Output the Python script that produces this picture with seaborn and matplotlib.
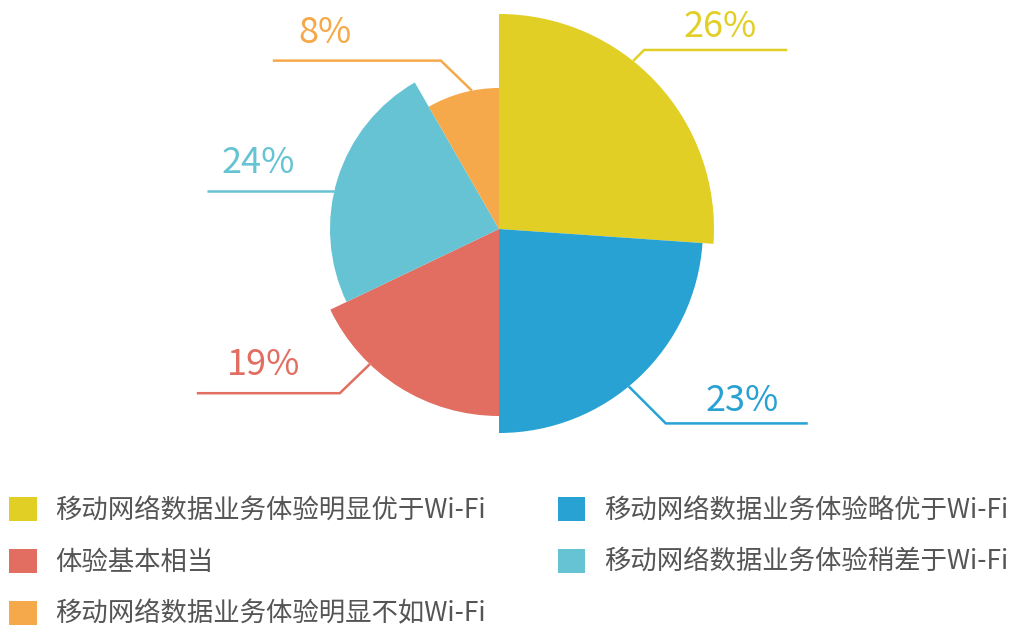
import numpy as np
import matplotlib.pyplot as plt
from matplotlib.patches import Patch
import seaborn as sns

# data
categories = [
    "移动网络数据业务体验明显优于Wi-Fi",
    "移动网络数据业务体验略优于Wi-Fi",
    "体验基本相当",
    "移动网络数据业务体验稍差于Wi-Fi",
    "移动网络数据业务体验明显不如Wi-Fi",
]
shares = [26.1, 23.9, 17.9, 23.8, 8.3]
pct_labels = ["26%", "23%", "19%", "24%", "8%"]
radii = [215, 204, 187, 169, 141]
colors = ["#E2CF26", "#28A1D3", "#E16E61", "#66C3D3", "#F5A94A"]

sns.set_theme(style="white")
plt.rcParams["font.family"] = ["Noto Sans CJK SC", "DejaVu Sans"]

W, H = 1012, 626
CX, CY, RMAX = 499, 229, 220

fig = plt.figure(figsize=(W / 100, H / 100), dpi=100)
ax = fig.add_axes([(CX - RMAX) / W, (H - CY - RMAX) / H, 2 * RMAX / W, 2 * RMAX / H],
                  projection="polar")
ax.set_theta_zero_location("N")
ax.set_theta_direction(-1)

widths = np.radians(np.array(shares) / sum(shares) * 360)
starts = np.concatenate([[0], np.cumsum(widths)[:-1]])
ax.bar(starts, radii, width=widths, align="edge", color=colors, linewidth=0)
ax.set_ylim(0, RMAX)
ax.set_axis_off()

# overlay in pixel coordinates for leader lines and labels
ov = fig.add_axes([0, 0, 1, 1])
ov.set_xlim(0, W)
ov.set_ylim(H, 0)
ov.set_axis_off()
ov.patch.set_alpha(0)

anchor_deg = [38.6, 140.5, 223.7, 283.1, 348.9]
elbow = [(11, -11), (37, 37), (-30, 29), (0, 0), (-31, -30)]
tail = [143, 142, -143, -127, -168]
text_dx = [-67, -66, 67, 51, 52]
text_gap = [13, 12.5, 18, 18, 18]

for i, lab in enumerate(pct_labels):
    a = np.radians(anchor_deg[i])
    x0 = CX + radii[i] * np.sin(a)
    y0 = CY - radii[i] * np.cos(a)
    x1, y1 = x0 + elbow[i][0], y0 + elbow[i][1]
    x2 = x1 + tail[i]
    ov.plot([x0, x1, x2], [y0, y1, y1], color=colors[i], lw=1.8,
            solid_capstyle="butt", solid_joinstyle="miter")
    ov.text(x2 + text_dx[i], y1 - text_gap[i], lab, color=colors[i],
            fontsize=26, ha="center", va="baseline")

# legend, row-major order as in the chart
order = [0, 2, 4, 1, 3]
handles = [Patch(facecolor=colors[i], edgecolor="none") for i in order]
labels = [categories[i] for i in order]
fig.legend(handles, labels, ncol=2, loc="upper left",
           bbox_to_anchor=(9 / W, 1 - 497 / H), frameon=False, fontsize=19,
           handlelength=1.05, handleheight=1.05, handletextpad=0.7,
           labelspacing=0.93, columnspacing=2.72, borderpad=0, borderaxespad=0,
           labelcolor="#555555")

fig.savefig("out.png", dpi=100)
